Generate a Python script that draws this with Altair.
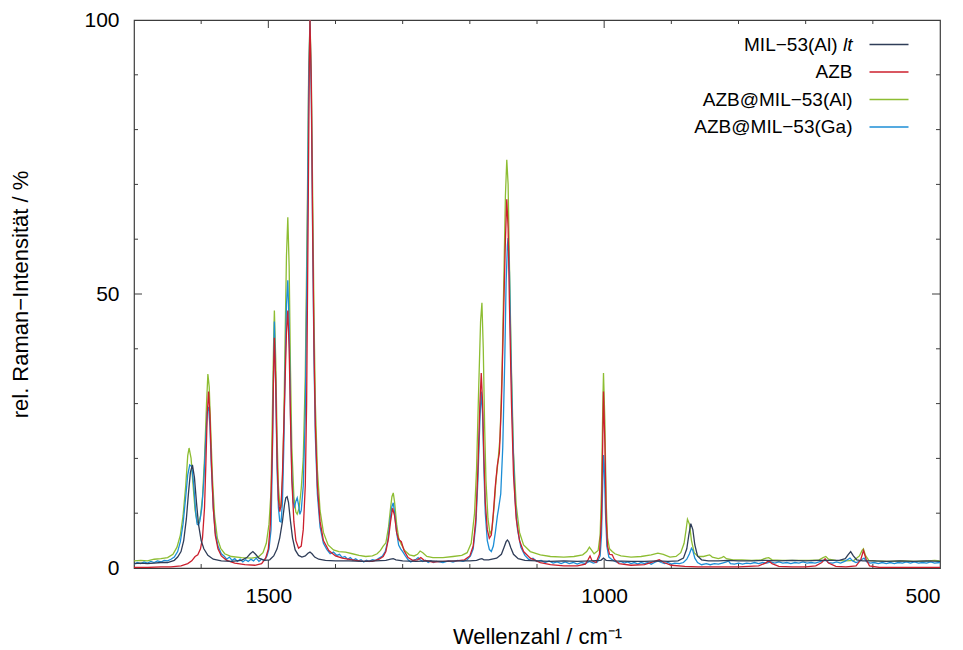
import altair as alt
import pandas as pd

# ---------------- data (wavenumber cm^-1, relative intensity %) ----------------
SERIES = ["MIL−53(Al) lt", "AZB", "AZB@MIL−53(Al)", "AZB@MIL−53(Ga)"]
LEGEND_LABELS = ["MIL−53(Al)", "AZB", "AZB@MIL−53(Al)", "AZB@MIL−53(Ga)"]
LEGEND_ROWS = [0, 1, 2, 3]
LEGEND_ITALIC_SUFFIX = "lt"
COLORS = ["#2f3d58", "#cc1f2d", "#8dbd32", "#1c8ed6"]

MIL_AL_LT = [
    (1700, 0.8), (1690, 0.9), (1680, 0.8), (1670, 0.9), (1660, 1.0), (1650, 1.0), (1640, 1.4),
    (1635, 2.0), (1630, 3.0), (1626, 5.0), (1622, 9.0), (1619, 13.5), (1616, 17.5), (1613, 18.8),
    (1610, 16.5), (1607, 12.0), (1604, 8.0), (1600, 5.0), (1596, 3.5), (1590, 2.3), (1582, 1.6),
    (1570, 1.3), (1555, 1.2), (1540, 1.4), (1532, 1.9), (1527, 2.6), (1523, 3.0), (1519, 2.5),
    (1514, 1.8), (1506, 1.4), (1498, 1.5), (1492, 2.2), (1487, 3.5), (1483, 5.5), (1479, 8.5),
    (1476, 11.5), (1474, 12.8), (1472, 13.0), (1470, 12.0), (1467, 8.5), (1464, 5.5), (1460, 3.3),
    (1455, 2.3), (1450, 2.0), (1445, 2.2), (1441, 2.7), (1438, 2.9), (1435, 2.6), (1431, 2.0),
    (1425, 1.6), (1415, 1.4), (1400, 1.3), (1380, 1.3), (1360, 1.2), (1340, 1.3), (1325, 1.4),
    (1318, 1.6), (1314, 1.7), (1310, 1.5), (1300, 1.3), (1280, 1.2), (1260, 1.3), (1240, 1.2),
    (1220, 1.3), (1200, 1.3), (1190, 1.4), (1185, 1.6), (1182, 1.7), (1179, 1.5), (1172, 1.5),
    (1160, 1.8), (1153, 2.5), (1149, 3.8), (1146, 4.8), (1144, 5.1), (1142, 4.8), (1139, 3.7),
    (1135, 2.5), (1128, 1.7), (1118, 1.4), (1100, 1.3), (1080, 1.2), (1060, 1.3), (1040, 1.2),
    (1020, 1.3), (1005, 1.4), (1001, 1.8), (997, 1.4), (985, 1.3), (960, 1.2), (940, 1.2),
    (920, 1.3), (905, 1.2), (890, 1.3), (882, 1.8), (877, 3.5), (874, 6.0), (871, 8.1), (868, 7.0),
    (865, 4.2), (861, 2.2), (855, 1.5), (845, 1.3), (830, 1.3), (815, 1.4), (800, 1.3), (780, 1.3),
    (760, 1.4), (740, 1.3), (720, 1.4), (700, 1.3), (680, 1.4), (665, 1.4), (650, 1.4), (641, 1.7),
    (637, 2.4), (633, 3.0), (629, 2.2), (624, 1.5), (615, 1.3), (600, 1.3), (580, 1.2), (560, 1.3),
    (540, 1.2), (520, 1.3), (500, 1.2),
]

AZB = [
    (1700, 0.1), (1680, 0.1), (1660, 0.2), (1645, 0.2), (1630, 0.4), (1620, 0.8), (1614, 1.3),
    (1609, 2.1), (1605, 2.4), (1601, 3.5), (1598, 5.5), (1595, 11), (1593, 19), (1591, 28),
    (1589, 32.2), (1587, 28), (1585, 20), (1582, 11), (1579, 6), (1575, 3.5), (1570, 2.2),
    (1562, 1.4), (1550, 0.9), (1535, 0.6), (1520, 0.5), (1510, 0.8), (1504, 1.8), (1500, 3.5),
    (1497, 8), (1494, 22), (1492, 37), (1491, 42), (1489, 34), (1487, 20), (1485, 12.5),
    (1483, 10.3), (1481, 11.5), (1479, 17), (1476, 30), (1473, 43), (1471, 47), (1469, 40),
    (1467, 27), (1465, 16), (1462, 8.5), (1459, 5), (1455, 3.6), (1451, 4), (1448, 7), (1445, 15),
    (1443, 30), (1441, 60), (1439, 92), (1438, 100), (1436, 88), (1434, 62), (1432, 40), (1430, 26),
    (1427, 15), (1423, 8.5), (1418, 5), (1410, 3.2), (1400, 2.2), (1390, 1.8), (1375, 1.5),
    (1360, 1.2), (1345, 1.2), (1335, 1.6), (1329, 2.1), (1325, 3), (1321, 5.5), (1318, 8.5),
    (1315, 10.9), (1312, 9.5), (1309, 6.5), (1306, 5.2), (1302, 4.8), (1298, 3.2), (1292, 1.9),
    (1285, 1.4), (1278, 1.5), (1273, 1.9), (1268, 1.4), (1255, 1.1), (1240, 1.2), (1220, 1.3),
    (1208, 1.5), (1200, 2.2), (1195, 4), (1191, 9), (1188, 18), (1185, 30), (1183, 35.6),
    (1181, 30), (1179, 20), (1177, 12), (1174, 7), (1171, 5.4), (1168, 6), (1165, 10), (1162, 15),
    (1159, 18.8), (1156, 21), (1153, 30), (1150, 45), (1147, 60), (1145, 67.3), (1143, 62),
    (1141, 48), (1138, 30), (1135, 17), (1131, 9), (1126, 5), (1120, 3), (1110, 1.8), (1095, 1),
    (1080, 0.6), (1060, 0.4), (1040, 0.4), (1028, 0.7), (1024, 1.5), (1021, 2.2), (1018, 1.3),
    (1012, 1.0), (1007, 2.5), (1004, 9), (1002, 24), (1001, 32.2), (999, 23), (997, 9), (995, 4),
    (992, 2.5), (988, 2.4), (985, 1.6), (978, 0.8), (960, 0.5), (940, 0.6), (925, 1.2), (918, 1.5),
    (911, 1.0), (900, 0.5), (880, 0.3), (860, 0.2), (840, 0.2), (820, 0.2), (800, 0.2), (770, 0.4),
    (760, 0.9), (755, 1.3), (750, 0.8), (740, 0.3), (720, 0.2), (700, 0.2), (685, 0.4), (676, 1.0),
    (671, 1.7), (666, 0.9), (655, 0.3), (640, 0.2), (625, 0.4), (618, 1.5), (614, 3.2), (610, 1.6),
    (605, 0.4), (590, 0.1), (560, 0.1), (530, 0.1), (500, 0.1),
]

AZB_MIL_AL = [
    (1700, 1.3), (1690, 1.4), (1680, 1.3), (1670, 1.6), (1660, 1.7), (1650, 1.9), (1642, 2.5),
    (1636, 3.8), (1631, 6), (1627, 9.5), (1623, 15), (1620, 20.5), (1618, 21.9), (1615, 20),
    (1612, 15), (1609, 10.5), (1606, 8.4), (1604, 8.2), (1601, 9.5), (1598, 13), (1595, 20),
    (1592, 30), (1590, 35.4), (1588, 33), (1586, 26), (1583, 16), (1580, 9.5), (1576, 5.5),
    (1571, 3.6), (1565, 2.6), (1555, 2.1), (1540, 1.9), (1525, 1.8), (1515, 2.0), (1508, 2.8),
    (1503, 4.5), (1499, 8), (1496, 14), (1494, 28), (1492, 42), (1491, 47), (1489, 38), (1487, 24),
    (1485, 15), (1483, 11.5), (1481, 11.2), (1479, 16), (1477, 26), (1475, 42), (1473, 57),
    (1471, 64), (1469, 55), (1467, 36), (1465, 22), (1462, 13), (1459, 10.2), (1457, 9.8),
    (1454, 11), (1451, 14.5), (1448, 20), (1445, 35), (1442, 65), (1440, 90), (1438, 100),
    (1436, 90), (1434, 68), (1432, 46), (1430, 30), (1427, 18), (1423, 10.5), (1418, 6.5),
    (1411, 4.2), (1403, 3.3), (1395, 3.0), (1385, 2.9), (1375, 2.6), (1365, 2.3), (1355, 2.1),
    (1345, 2.2), (1338, 2.6), (1333, 3.2), (1329, 4.0), (1325, 4.6), (1321, 7.5), (1318, 11),
    (1316, 13), (1314, 13.7), (1312, 12), (1309, 8), (1306, 5.5), (1302, 4.3), (1297, 3.2),
    (1290, 2.4), (1283, 2.2), (1278, 2.5), (1274, 3.1), (1270, 2.8), (1264, 2.1), (1255, 1.9),
    (1240, 1.9), (1225, 2.1), (1212, 2.3), (1204, 2.8), (1198, 4.5), (1193, 10), (1190, 18),
    (1187, 32), (1184, 45), (1182, 48.4), (1180, 40), (1178, 26), (1176, 16), (1173, 9),
    (1170, 6.2), (1167, 7), (1164, 11), (1161, 16), (1158, 19.5), (1155, 24), (1152, 36),
    (1149, 55), (1147, 68), (1145, 74.5), (1143, 70), (1141, 55), (1138, 36), (1135, 21),
    (1131, 11.5), (1126, 6.5), (1120, 4.2), (1110, 3.0), (1095, 2.4), (1080, 2.1), (1060, 2.0),
    (1045, 2.1), (1032, 2.4), (1026, 3.0), (1022, 3.8), (1019, 3.3), (1015, 2.6), (1009, 3.2),
    (1006, 6), (1004, 14), (1002, 30), (1001, 35.6), (999, 27), (997, 12), (995, 5.5), (992, 3.5),
    (988, 3.0), (984, 2.6), (975, 2.2), (960, 2.0), (945, 2.1), (930, 2.4), (920, 2.7), (912, 2.5),
    (902, 2.0), (893, 2.1), (886, 2.8), (881, 4.5), (878, 7), (876, 8.9), (873, 8.0), (870, 5),
    (866, 2.8), (860, 2.1), (852, 2.1), (846, 2.3), (843, 2.4), (839, 2.0), (830, 1.7), (825, 1.9),
    (822, 2.1), (818, 1.7), (808, 1.5), (795, 1.5), (780, 1.4), (766, 1.5), (759, 1.8), (755, 1.9),
    (750, 1.5), (735, 1.4), (715, 1.4), (695, 1.4), (680, 1.5), (674, 1.9), (670, 2.1), (666, 1.6),
    (655, 1.4), (640, 1.3), (628, 1.4), (620, 2.2), (616, 3.2), (614, 3.5), (611, 2.3), (606, 1.4),
    (595, 1.3), (575, 1.2), (555, 1.3), (535, 1.2), (518, 1.3), (508, 1.4), (500, 1.3),
]

AZB_MIL_GA = [
    (1700, 0.7), (1695, 1.0), (1690, 0.8), (1685, 1.1), (1680, 0.9), (1675, 1.2), (1670, 1.0),
    (1665, 1.3), (1660, 1.1), (1655, 1.4), (1650, 1.3), (1645, 1.6), (1640, 2.0), (1635, 3.0),
    (1631, 4.8), (1627, 8), (1623, 13), (1620, 17), (1617, 18.8), (1614, 18.5), (1611, 15),
    (1608, 10), (1606, 8), (1604, 7.8), (1602, 8.5), (1599, 11), (1596, 16), (1593, 24),
    (1591, 28.5), (1589, 29.4), (1587, 26), (1585, 19), (1582, 11), (1579, 6.5), (1575, 4),
    (1570, 2.6), (1566, 2.2), (1562, 1.6), (1558, 2.0), (1554, 1.4), (1550, 1.7), (1546, 1.2),
    (1542, 1.6), (1538, 1.1), (1534, 1.5), (1530, 1.2), (1526, 1.6), (1522, 1.3), (1518, 1.8),
    (1514, 1.2), (1510, 1.6), (1506, 1.4), (1502, 2.2), (1499, 3.5), (1496, 7), (1494, 20),
    (1492, 38), (1491, 45), (1489, 33), (1487, 18), (1485, 11), (1483, 8.5), (1481, 8.4),
    (1479, 12), (1477, 22), (1475, 36), (1473, 48), (1471, 52.5), (1469, 44), (1467, 28),
    (1465, 17), (1463, 12), (1461, 11.2), (1459, 12.2), (1457, 12.8), (1455, 11.5), (1453, 9.8),
    (1451, 10.5), (1448, 15), (1445, 28), (1442, 60), (1440, 88), (1438, 100), (1436, 86),
    (1434, 60), (1432, 38), (1430, 24), (1427, 13.5), (1423, 7.5), (1418, 4.5), (1413, 3.4),
    (1408, 2.6), (1403, 2.9), (1398, 2.3), (1394, 2.5), (1390, 1.9), (1386, 2.1), (1382, 1.6),
    (1378, 1.9), (1374, 1.4), (1370, 1.7), (1366, 1.3), (1362, 1.5), (1358, 1.1), (1354, 1.4),
    (1350, 1.2), (1345, 1.5), (1340, 1.4), (1335, 1.8), (1330, 2.2), (1326, 3.0), (1322, 5),
    (1319, 8.5), (1316, 11.2), (1314, 11.9), (1312, 10), (1309, 6.5), (1306, 4.2), (1303, 3.5),
    (1300, 3.0), (1296, 2.2), (1292, 1.5), (1288, 1.1), (1284, 1.4), (1280, 1.6), (1277, 1.9),
    (1274, 1.5), (1270, 1.2), (1266, 1.4), (1262, 1.0), (1258, 1.3), (1254, 1.0), (1250, 1.2),
    (1240, 1.0), (1232, 1.3), (1225, 1.1), (1218, 1.4), (1210, 1.2), (1204, 1.5), (1199, 2.2),
    (1195, 3.5), (1191, 8), (1188, 16), (1185, 27), (1183, 32.2), (1181, 28), (1179, 18),
    (1177, 10), (1174, 5), (1171, 3.4), (1168, 3.0), (1165, 4), (1162, 6.5), (1159, 9.5),
    (1157, 11), (1154, 13.5), (1151, 22), (1148, 38), (1146, 52), (1144, 59), (1143, 60.2),
    (1141, 54), (1139, 40), (1136, 24), (1133, 13), (1129, 7), (1124, 3.8), (1118, 2.3),
    (1112, 1.5), (1106, 1.8), (1100, 1.2), (1094, 1.4), (1088, 1.0), (1082, 1.3), (1076, 0.9),
    (1070, 1.1), (1064, 0.8), (1058, 1.1), (1052, 0.8), (1046, 1.0), (1040, 0.7), (1034, 1.0),
    (1028, 0.8), (1022, 1.2), (1016, 0.9), (1010, 1.1), (1006, 2.2), (1004, 6), (1002, 16),
    (1001, 20.6), (1000, 19), (998, 10), (996, 4), (993, 2.0), (989, 1.6), (985, 1.3), (980, 1.0),
    (975, 1.2), (970, 0.9), (965, 1.1), (960, 0.8), (955, 1.0), (950, 0.7), (945, 1.0), (940, 0.8),
    (935, 1.0), (930, 0.7), (925, 1.0), (920, 1.3), (915, 1.0), (910, 0.8), (905, 1.0), (900, 0.7),
    (895, 0.9), (888, 0.8), (882, 1.0), (877, 1.6), (873, 2.6), (870, 3.6), (868, 3.2), (865, 1.8),
    (861, 1.0), (855, 0.6), (848, 0.8), (842, 0.6), (836, 0.8), (830, 0.7), (824, 0.9), (818, 1.1),
    (815, 1.3), (812, 0.8), (806, 0.7), (800, 0.9), (794, 0.7), (788, 0.9), (782, 0.8), (776, 1.0),
    (770, 0.8), (764, 1.0), (758, 0.9), (752, 1.1), (746, 0.9), (740, 1.1), (734, 0.9), (728, 1.0),
    (722, 0.8), (716, 1.0), (710, 0.9), (704, 1.1), (698, 0.9), (692, 1.0), (686, 0.9), (680, 1.1),
    (674, 1.3), (670, 1.4), (666, 1.0), (660, 0.9), (654, 1.1), (648, 0.9), (642, 1.2), (638, 1.5),
    (634, 1.8), (630, 1.3), (625, 1.0), (620, 1.2), (616, 1.6), (613, 1.8), (609, 1.1), (604, 0.9),
    (598, 1.0), (592, 0.8), (586, 1.0), (580, 0.8), (574, 1.0), (568, 0.8), (562, 1.0), (556, 0.9),
    (550, 1.1), (544, 0.9), (538, 1.1), (532, 0.9), (526, 1.0), (520, 0.9), (514, 1.1), (508, 0.9),
    (500, 1.0),
]

X_DOMAIN = [500, 1700]
Y_DOMAIN = [0, 100]
X_LABELS = [500, 1000, 1500]
Y_LABELS = [0, 50, 100]
X_MINOR_TICKS = [600, 700, 800, 900, 1100, 1200, 1300, 1400, 1600]
X_MAJOR_TICKS = [1000, 1500]
Y_MINOR_TICKS = [10, 20, 30, 40, 60, 70, 80, 90]
Y_MAJOR_TICKS = [50]

# ---------------- layout ----------------
W, H = 806, 548
FONT = "Liberation Sans"
FRAME = "#3c3c3c"
MINOR_LEN, MAJOR_LEN = 4, 8

x_scale = alt.Scale(domain=X_DOMAIN, reverse=True, nice=False, zero=False)
y_scale = alt.Scale(domain=Y_DOMAIN, nice=False, zero=False)
color_scale = alt.Scale(domain=SERIES, range=COLORS)

x_axis = alt.Axis(values=X_LABELS, ticks=False, tickSize=0, domain=False, grid=False,
                  labelFontSize=21, labelFont=FONT, labelColor="black", labelPadding=17,
                  format="d", title="Wellenzahl / cm⁻¹", titleFont=FONT, titleFontSize=22,
                  titleFontWeight="normal", titleColor="black", titleX=W / 2, titleY=68,
                  titleBaseline="middle", titleAlign="center")
y_axis = alt.Axis(values=Y_LABELS, ticks=False, tickSize=0, domain=False, grid=False,
                  labelFontSize=21, labelFont=FONT, labelColor="black", labelPadding=15,
                  format="d", title="rel. Raman−Intensität / %", titleFont=FONT,
                  titleFontSize=22, titleFontWeight="normal", titleColor="black",
                  titleX=-114, titleY=H / 2, titleBaseline="middle", titleAlign="center",
                  titleAngle=270)


def series_df(name, pts):
    return pd.DataFrame({"wn": [p[0] for p in pts], "val": [p[1] for p in pts], "series": name})


frames = {
    SERIES[0]: series_df(SERIES[0], MIL_AL_LT),
    SERIES[1]: series_df(SERIES[1], AZB),
    SERIES[2]: series_df(SERIES[2], AZB_MIL_AL),
    SERIES[3]: series_df(SERIES[3], AZB_MIL_GA),
}


def line_layer(name):
    return alt.Chart(frames[name]).mark_line(strokeWidth=1.3, clip=True).encode(
        x=alt.X("wn:Q", scale=x_scale, axis=x_axis),
        y=alt.Y("val:Q", scale=y_scale, axis=y_axis),
        color=alt.Color("series:N", scale=color_scale, legend=None),
    )


def xtick_layer(vals, y0, y1):
    return alt.Chart(pd.DataFrame({"wn": vals})).mark_rule(color=FRAME, strokeWidth=1).encode(
        x=alt.X("wn:Q", scale=x_scale, axis=x_axis), y=alt.value(y0), y2=alt.value(y1))


def ytick_layer(vals, x0, x1):
    return alt.Chart(pd.DataFrame({"val": vals})).mark_rule(color=FRAME, strokeWidth=1).encode(
        y=alt.Y("val:Q", scale=y_scale, axis=y_axis), x=alt.value(x0), x2=alt.value(x1))


ticks = [
    xtick_layer(X_MINOR_TICKS, H, H - MINOR_LEN), xtick_layer(X_MAJOR_TICKS, H, H - MAJOR_LEN),
    xtick_layer(X_MINOR_TICKS, 0, MINOR_LEN), xtick_layer(X_MAJOR_TICKS, 0, MAJOR_LEN),
    ytick_layer(Y_MINOR_TICKS, 0, MINOR_LEN), ytick_layer(Y_MAJOR_TICKS, 0, MAJOR_LEN),
    ytick_layer(Y_MINOR_TICKS, W, W - MINOR_LEN), ytick_layer(Y_MAJOR_TICKS, W, W - MAJOR_LEN),
]

lines = [line_layer(SERIES[2]), line_layer(SERIES[3]), line_layer(SERIES[1]), line_layer(SERIES[0])]

main = alt.layer(*ticks, *lines)

# ---------------- legend (top right, label then line sample) ----------------
legend_df = pd.DataFrame({"series": SERIES, "label": LEGEND_LABELS, "row": LEGEND_ROWS})
legend_y = alt.Y("row:Q", scale=alt.Scale(domain=[0, 3], range=[24.5, 107], nice=False, zero=False),
                 axis=None)
TEXT_RIGHT = 718.5

legend_text = alt.Chart(legend_df).mark_text(
    align="right", baseline="middle", fontSize=19, font=FONT, color="black"
).transform_filter(alt.datum.row > 0).encode(
    x=alt.value(TEXT_RIGHT), y=legend_y, text="label:N")

legend_text_first = alt.Chart(legend_df).mark_text(
    align="right", baseline="middle", fontSize=19, font=FONT, color="black"
).transform_filter(alt.datum.row == 0).encode(
    x=alt.value(TEXT_RIGHT - 15), y=legend_y, text="label:N")

legend_italic = alt.Chart(legend_df).mark_text(
    align="right", baseline="middle", fontSize=19, font=FONT, color="black", fontStyle="italic"
).transform_filter(alt.datum.row == 0).encode(
    x=alt.value(TEXT_RIGHT), y=legend_y, text=alt.value(LEGEND_ITALIC_SUFFIX))

legend_lines = alt.Chart(legend_df).mark_rule(strokeWidth=1.3).encode(
    x=alt.value(735.5), x2=alt.value(774.5), y=legend_y,
    color=alt.Color("series:N", scale=color_scale, legend=None))

legend = alt.layer(legend_text, legend_text_first, legend_italic, legend_lines)

chart = alt.layer(main, legend).resolve_scale(y="independent").properties(
    width=W, height=H,
    padding={"left": 134, "top": 20, "right": 23, "bottom": 82},
    autosize=alt.AutoSizeParams(type="none"),
    background="white",
).configure_view(stroke=FRAME, strokeWidth=1.2)

chart.save("out.html", embed_options={"renderer": "svg", "actions": False})
